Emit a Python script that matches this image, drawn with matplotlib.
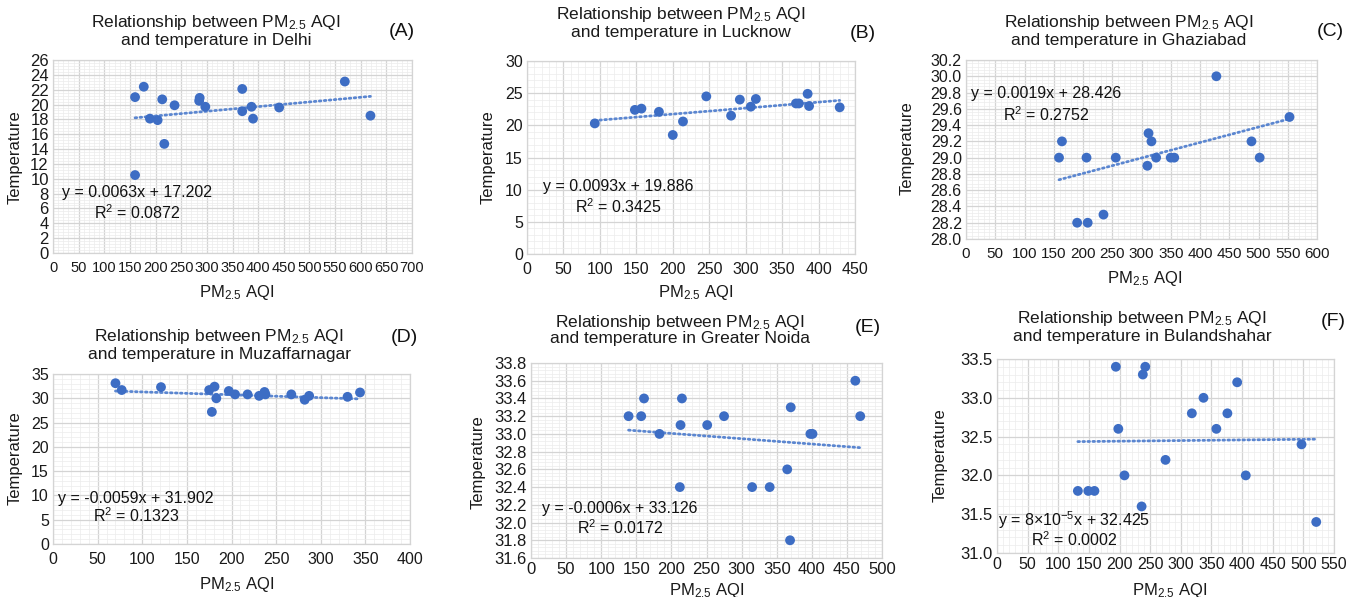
import numpy as np
import matplotlib
matplotlib.use("Agg")
import matplotlib.pyplot as plt
from matplotlib.ticker import MultipleLocator, AutoMinorLocator, FormatStrFormatter

plt.rcParams['font.family'] = ['Liberation Sans', 'DejaVu Sans']
plt.rcParams['mathtext.fontset'] = 'custom'
plt.rcParams['mathtext.rm'] = 'Liberation Sans'
plt.rcParams['mathtext.it'] = 'Liberation Sans:italic'
plt.rcParams['mathtext.bf'] = 'Liberation Sans:bold'

# ---------------- data ----------------
cities = ["Delhi", "Lucknow", "Ghaziabad", "Muzaffarnagar", "Greater Noida", "Bulandshahar"]
panel_labels = ["(A)", "(B)", "(C)", "(D)", "(E)", "(F)"]

delhi_aqi = [160, 177, 160, 189, 204, 213, 217, 237, 286, 285, 297, 369, 369, 387, 390, 441, 569, 619]
delhi_temp = [21.0, 22.4, 10.5, 18.1, 17.9, 20.7, 14.7, 19.9, 20.9, 20.5, 19.7, 22.1, 19.1, 19.7, 18.1, 19.6, 23.1, 18.5]

lucknow_aqi = [93, 148, 157, 181, 200, 214, 246, 280, 292, 307, 314, 369, 373, 385, 387, 429]
lucknow_temp = [20.3, 22.4, 22.6, 22.1, 18.5, 20.6, 24.5, 21.5, 24.0, 22.9, 24.1, 23.4, 23.4, 24.9, 23.0, 22.8]

ghaziabad_aqi = [159, 164, 190, 206, 208, 235, 256, 310, 312, 317, 325, 350, 356, 428, 488, 502, 553]
ghaziabad_temp = [29.0, 29.2, 28.2, 29.0, 28.2, 28.3, 29.0, 28.9, 29.3, 29.2, 29.0, 29.0, 29.0, 30.0, 29.2, 29.0, 29.5]

muzaffarnagar_aqi = [70, 77, 121, 175, 181, 178, 183, 197, 204, 218, 231, 237, 238, 267, 282, 287, 330, 344]
muzaffarnagar_temp = [33.1, 31.7, 32.3, 31.7, 32.4, 27.2, 30.0, 31.5, 30.8, 30.8, 30.5, 31.3, 30.8, 30.8, 29.7, 30.5, 30.3, 31.2]

noida_aqi = [139, 157, 161, 183, 213, 215, 212, 251, 275, 315, 340, 365, 370, 369, 398, 401, 462, 469]
noida_temp = [33.2, 33.2, 33.4, 33.0, 33.1, 33.4, 32.4, 33.1, 33.2, 32.4, 32.4, 32.6, 33.3, 31.8, 33.0, 33.0, 33.6, 33.2]

bulandshahar_aqi = [132, 149, 159, 194, 198, 208, 236, 238, 242, 275, 318, 337, 358, 376, 392, 406, 497, 521]
bulandshahar_temp = [31.8, 31.8, 31.8, 33.4, 32.6, 32.0, 31.6, 33.3, 33.4, 32.2, 32.8, 33.0, 32.6, 32.8, 33.2, 32.0, 32.4, 31.4]

slopes = [0.0063, 0.0093, 0.0019, -0.0059, -0.0006, 0.00008]
intercepts = [17.202, 19.886, 28.426, 31.902, 33.126, 32.425]
eq_texts = ["y = 0.0063x + 17.202", "y = 0.0093x + 19.886", "y = 0.0019x + 28.426",
            "y = -0.0059x + 31.902", "y = -0.0006x + 33.126", "y = 8×10$^{−5}$x + 32.425"]
r2_texts = ["R$^2$ = 0.0872", "R$^2$ = 0.3425", "R$^2$ = 0.2752",
            "R$^2$ = 0.1323", "R$^2$ = 0.0172", "R$^2$ = 0.0002"]

x_ranges = [(0, 700, 50), (0, 450, 50), (0, 600, 50), (0, 400, 50), (0, 500, 50), (0, 550, 50)]
y_ranges = [(0, 26, 2), (0, 30, 5), (28.0, 30.2, 0.2), (0, 35, 5), (31.6, 33.8, 0.2), (31.0, 33.5, 0.5)]

xs = [delhi_aqi, lucknow_aqi, ghaziabad_aqi, muzaffarnagar_aqi, noida_aqi, bulandshahar_aqi]
ys = [delhi_temp, lucknow_temp, ghaziabad_temp, muzaffarnagar_temp, noida_temp, bulandshahar_temp]

# ---------------- layout (pixels) ----------------
W, H = 1365, 597
fig = plt.figure(figsize=(W / 100, H / 100), dpi=100)

# plot-area boxes: left, right, top, bottom
boxes = [(53, 412, 60, 253), (527, 855, 61, 254), (966, 1317, 60, 239),
         (53, 410, 374, 544), (531, 882, 363, 558), (997, 1334, 359, 553)]
title_pos = [(216, 22, 40), (681, 15, 33), (1129, 22, 40), (219, 337, 355), (680, 323, 339), (1142, 318, 336)]
label_pos = [(402, 32), (863, 33), (1330, 32), (404, 337), (868, 328), (1333, 322)]
xlab_pos = [(237, 293), (696, 293), (1145, 278), (237, 585), (707, 590), (1170, 590)]
ylab_pos = [(15, 157), (488, 157), (907, 148), (15, 458), (478, 462), (940, 455)]
eq_pos = [(137, 193, 213), (618, 186, 207), (1046, 94, 115), (136, 498, 516), (620, 508, 528), (1074, 520, 540)]
xtick_fs = [10.5, 11.5, 11, 11.5, 12, 11.5]
ytick_fs = [12, 11.5, 11.5, 11.5, 12, 12]
xtick_pad = [6, 6, 6, 6, 3, 3]
yfmt = [None, None, '%.1f', None, '%.1f', '%.1f']

dot_color = '#3D6DC4'
line_color = '#5B86D0'
text_color = '#1a1a1a'


def fx(px):
    return px / W


def fy(py):
    return 1 - py / H


for i in range(6):
    l, r, t, b = boxes[i]
    ax = fig.add_axes([fx(l), fy(b), (r - l) / W, (b - t) / H])
    x = np.array(xs[i], dtype=float)
    y = np.array(ys[i], dtype=float)

    x0, x1, xs_ = x_ranges[i]
    y0, y1, ys_ = y_ranges[i]
    ax.set_xlim(x0, x1)
    ax.set_ylim(y0, y1)
    ax.xaxis.set_major_locator(MultipleLocator(xs_))
    ax.yaxis.set_major_locator(MultipleLocator(ys_))
    ax.xaxis.set_minor_locator(AutoMinorLocator(5))
    ax.yaxis.set_minor_locator(AutoMinorLocator(5))
    if yfmt[i]:
        ax.yaxis.set_major_formatter(FormatStrFormatter(yfmt[i]))
    ax.grid(which='major', color='#d4d4d4', linewidth=0.9)
    ax.grid(which='minor', color='#ececec', linewidth=0.5)
    ax.set_axisbelow(True)
    for s in ax.spines.values():
        s.set_color('#d4d4d4')
        s.set_linewidth(0.9)
    ax.tick_params(which='both', length=0)
    ax.tick_params(axis='x', labelsize=xtick_fs[i], pad=xtick_pad[i], labelcolor=text_color)
    ax.tick_params(axis='y', labelsize=ytick_fs[i], pad=3, labelcolor=text_color)

    # trendline
    xl = np.array([x.min(), x.max()])
    ax.plot(xl, slopes[i] * xl + intercepts[i], color=line_color, linewidth=2.0,
            linestyle=(0, (0.6, 1.2)), dash_capstyle='round', zorder=2)
    ax.scatter(x, y, s=50, color=dot_color, edgecolors='none', zorder=3)

    # texts
    tx, ty1, ty2 = title_pos[i]
    fig.text(fx(tx), fy(ty1), "Relationship between PM$_{2.5}$ AQI", ha='center', va='center',
             fontsize=12.5, color=text_color)
    fig.text(fx(tx), fy(ty2), "and temperature in " + cities[i], ha='center', va='center',
             fontsize=12.5, color=text_color)
    lx, ly = label_pos[i]
    fig.text(fx(lx), fy(ly), panel_labels[i], ha='center', va='center', fontsize=14, color='#111111')
    xx, xy = xlab_pos[i]
    fig.text(fx(xx), fy(xy), "PM$_{2.5}$ AQI", ha='center', va='center', fontsize=12, color=text_color)
    yx, yy = ylab_pos[i]
    fig.text(fx(yx), fy(yy), "Temperature", ha='center', va='center', rotation=90,
             fontsize=12, color=text_color)
    ex, ey1, ey2 = eq_pos[i]
    fig.text(fx(ex), fy(ey1), eq_texts[i], ha='center', va='center', fontsize=11.5, color='#111111')
    fig.text(fx(ex), fy(ey2), r2_texts[i], ha='center', va='center', fontsize=11.5, color='#111111')

fig.savefig("out.png", dpi=100, facecolor='white')
